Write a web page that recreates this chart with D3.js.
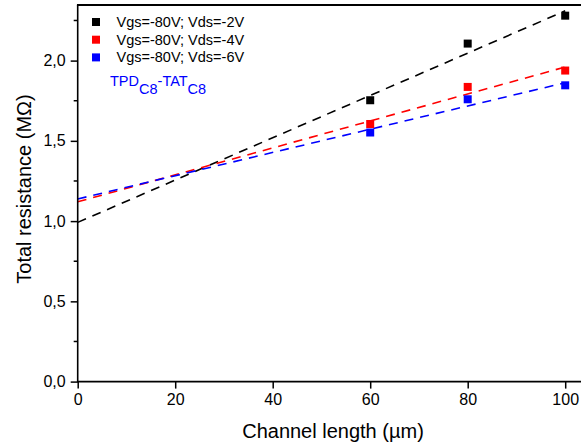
<!DOCTYPE html>
<html><head><meta charset="utf-8">
<script src="https://cdn.jsdelivr.net/npm/d3@7"></script>
<style>body{margin:0;background:#fff}svg{display:block;font-family:"Liberation Sans",Arial,sans-serif}</style>
</head><body><svg id="c" width="581" height="448"></svg>
<script>
const lengths = [60, 80, 100];
const seriesNames = ["Vgs=-80V; Vds=-2V", "Vgs=-80V; Vds=-4V", "Vgs=-80V; Vds=-6V"];
const seriesColors = ["#000000", "#ff0000", "#0000ff"];
const vds2 = [1.753, 2.106, 2.280];
const vds4 = [1.605, 1.836, 1.938];
const vds6 = [1.552, 1.759, 1.846];
const fitX = [0, 100];
const fit2 = [0.992, 2.310];
const fit4 = [1.120, 1.960];
const fit6 = [1.138, 1.862];
const xTicks = [0, 20, 40, 60, 80, 100];
const yTicks = [0, 0.5, 1.0, 1.5, 2.0];
const yMinor = [0.25, 0.75, 1.25, 1.75, 2.25];

const svg = d3.select("#c");
const x = d3.scaleLinear().domain([0, 100]).range([77.7, 565.2]);
const y = d3.scaleLinear().domain([0, 2]).range([381.6, 60.6]);
const yTop = 5;
const xRight = 582;

// fits
const fits = [fit2, fit4, fit6];
const line = d3.line().x(d => x(d[0])).y(d => y(d[1]));
fits.forEach((f, i) => {
  svg.append("path").attr("d", line(fitX.map((v, j) => [v, f[j]])))
    .attr("fill", "none").attr("stroke", seriesColors[i]).attr("stroke-width", 1.6)
    .attr("stroke-dasharray", "9,7");
});

// points
const data = [vds2, vds4, vds6];
data.forEach((s, i) => {
  svg.append("g").selectAll("rect").data(s).join("rect")
    .attr("x", (d, j) => x(lengths[j]) - 4).attr("y", d => y(d) - 4)
    .attr("width", 8).attr("height", 8).attr("fill", seriesColors[i]);
});

// axes
const xAxis = svg.append("g").attr("transform", `translate(0,${y(0)})`)
  .call(d3.axisBottom(x).tickValues(xTicks).tickSize(7).tickPadding(5).tickFormat(d3.format("d")));
xAxis.select(".domain").remove();
xAxis.selectAll("line").attr("stroke-width", 1.5);
xAxis.selectAll("text").attr("font-size", 16).attr("fill", "#000");
svg.append("line").attr("x1", x(0) - 0.75).attr("x2", xRight).attr("y1", y(0)).attr("y2", y(0))
  .attr("stroke", "#000").attr("stroke-width", 1.6);

const fmt = d => d3.format(".1f")(d).replace(".", ",");
const yAxis = svg.append("g").attr("transform", `translate(${x(0)},0)`)
  .call(d3.axisLeft(y).tickValues(yTicks).tickSize(7).tickPadding(5).tickFormat(fmt));
yAxis.select(".domain").remove();
yAxis.selectAll("line").attr("stroke-width", 1.5);
yAxis.selectAll("text").attr("font-size", 16).attr("fill", "#000");
svg.append("g").selectAll("line").data(yMinor).join("line")
  .attr("x1", x(0) - 4).attr("x2", x(0)).attr("y1", d => y(d)).attr("y2", d => y(d))
  .attr("stroke", "#000").attr("stroke-width", 1.5);
svg.append("line").attr("x1", x(0)).attr("x2", x(0)).attr("y1", yTop).attr("y2", y(0) + 0.75)
  .attr("stroke", "#000").attr("stroke-width", 1.6);
svg.append("line").attr("x1", x(0) - 0.75).attr("x2", xRight).attr("y1", yTop).attr("y2", yTop)
  .attr("stroke", "#000").attr("stroke-width", 2);

// titles
svg.append("text").attr("x", 333).attr("y", 438).attr("text-anchor", "middle")
  .attr("font-size", 20).text("Channel length (µm)");
svg.append("text").attr("transform", "translate(31,189) rotate(-90)").attr("text-anchor", "middle")
  .attr("font-size", 20).text("Total resistance (MΩ)");

// legend
const legY = [22, 39.7, 57.4];
seriesNames.forEach((n, i) => {
  svg.append("rect").attr("x", 92).attr("y", legY[i] - 4).attr("width", 8).attr("height", 8)
    .attr("fill", seriesColors[i]);
  svg.append("text").attr("x", 116.5).attr("y", legY[i] + 5).attr("font-size", 14.5)
    .attr("fill", "#000").text(n);
});
const t = svg.append("text").attr("x", 110).attr("y", 86).attr("font-size", 14.5).attr("fill", "#0000ff");
t.append("tspan").text("TPD");
t.append("tspan").attr("dy", 8).text("C8");
t.append("tspan").attr("dy", -8).text("-TAT");
t.append("tspan").attr("dy", 8).text("C8");
</script></body></html>
